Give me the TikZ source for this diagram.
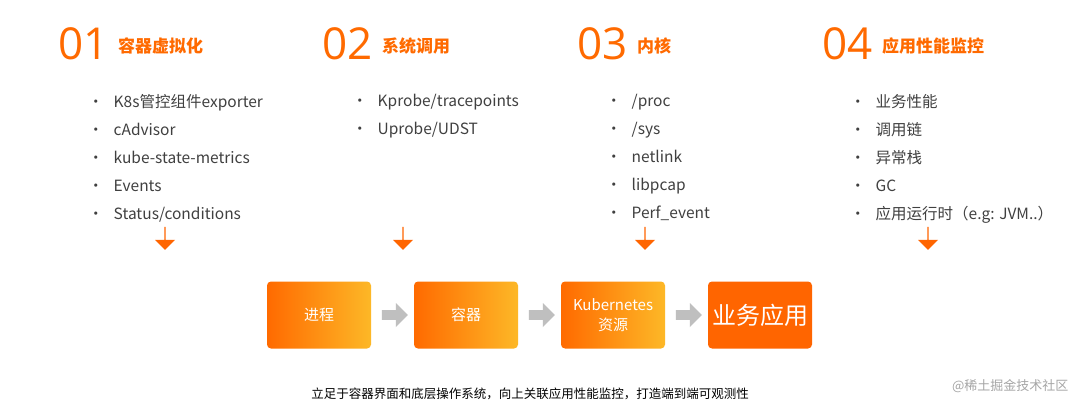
\documentclass[tikz,border=0pt]{standalone}
\usepackage{fontspec}
\setmainfont{Noto Sans CJK SC}
\newfontfamily\numfont{Open Sans}
\usetikzlibrary{shapes.arrows,calc}
\definecolor{org}{HTML}{FF6A00}
\definecolor{yel}{HTML}{FDB827}
\definecolor{txt}{HTML}{404040}
\begin{document}
\begin{tikzpicture}[x=1pt,y=-1pt,
 num/.style={anchor=base west,text=org,font=\numfont\fontsize{44}{44}\selectfont,inner sep=0},
 head/.style={anchor=base west,text=org,font=\fontsize{17}{17}\selectfont\bfseries,inner sep=0},
 lst/.style={anchor=north west,text=txt,font=\fontsize{15.5}{28}\selectfont,inner sep=0,align=left},
 dn/.style={single arrow,draw=none,fill=org!95!red,shape border rotate=270,minimum width=20,minimum height=23,single arrow head extend=3,inner sep=0},
 gr/.style={single arrow,draw=none,fill=black!25,minimum width=24,minimum height=26,single arrow head extend=2.5,inner sep=1.5},
 box/.style={rounded corners=4,minimum width=104,minimum height=67,text=white,inner sep=0,align=center,font=\fontsize{15}{20}\selectfont}]
\useasboundingbox (0,0) rectangle (1080,412);
\fill[white] (0,0) rectangle (1080,412);
\node[num] (n1) at (58,60) {01}; \node[head] (h1) at (118,53) {容器虚拟化};
\node[num] (n2) at (322,60) {02}; \node[head] (h2) at (382,53) {系统调用};
\node[num] (n3) at (577,60) {03}; \node[head] (h3) at (637,53) {内核};
\node[num] (n4) at (822,60) {04}; \node[head] (h4) at (882,53) {应用性能监控};
\node[lst] (l1) at (88,94) {•\hspace{10pt}K8s管控组件exporter\\•\hspace{10pt}cAdvisor\\•\hspace{10pt}kube-state-metrics\\•\hspace{10pt}Events\\•\hspace{10pt}Status/conditions};
\node[lst] (l2) at (352,94) {•\hspace{10pt}Kprobe/tracepoints\\•\hspace{10pt}Uprobe/UDST};
\node[lst] (l3) at (606,94) {•\hspace{10pt}/proc\\•\hspace{10pt}/sys\\•\hspace{10pt}netlink\\•\hspace{10pt}libpcap\\•\hspace{10pt}Perf\_event};
\node[lst] (l4) at (850,94) {•\hspace{10pt}业务性能\\•\hspace{10pt}调用链\\•\hspace{10pt}异常栈\\•\hspace{10pt}GC\\•\hspace{10pt}应用运行时（e.g: JVM..）};
\node[dn] (a1) at (165,238) {}; \node[dn] (a2) at (403,238) {};
\node[dn] (a3) at (645,238) {}; \node[dn] (a4) at (928,238) {};
\node[box,left color=org,right color=yel] (b1) at (319,315) {进程};
\node[box,left color=org,right color=yel] (b2) at (466,315) {容器};
\node[box,left color=org,right color=yel] (b3) at (613,315) {Kubernetes\\资源};
\node[box,fill=org!95!red,font=\fontsize{24}{24}\selectfont] (b4) at (760,315) {业务应用};
\node[gr] (g1) at ($ (b1.east)!0.5!(b2.west) $) {};
\node[gr] (g2) at ($ (b2.east)!0.5!(b3.west) $) {};
\node[gr] (g3) at ($ (b3.east)!0.5!(b4.west) $) {};
\node[text=black,font=\fontsize{12.5}{12.5}\selectfont] (cap) at (530,394) {立足于容器界面和底层操作系统，向上关联应用性能监控，打造端到端可观测性};
\node[text=black!35,font=\fontsize{13}{13}\selectfont,anchor=east] (wm) at (1072,386) {@稀土掘金技术社区};
\end{tikzpicture}
\end{document}
